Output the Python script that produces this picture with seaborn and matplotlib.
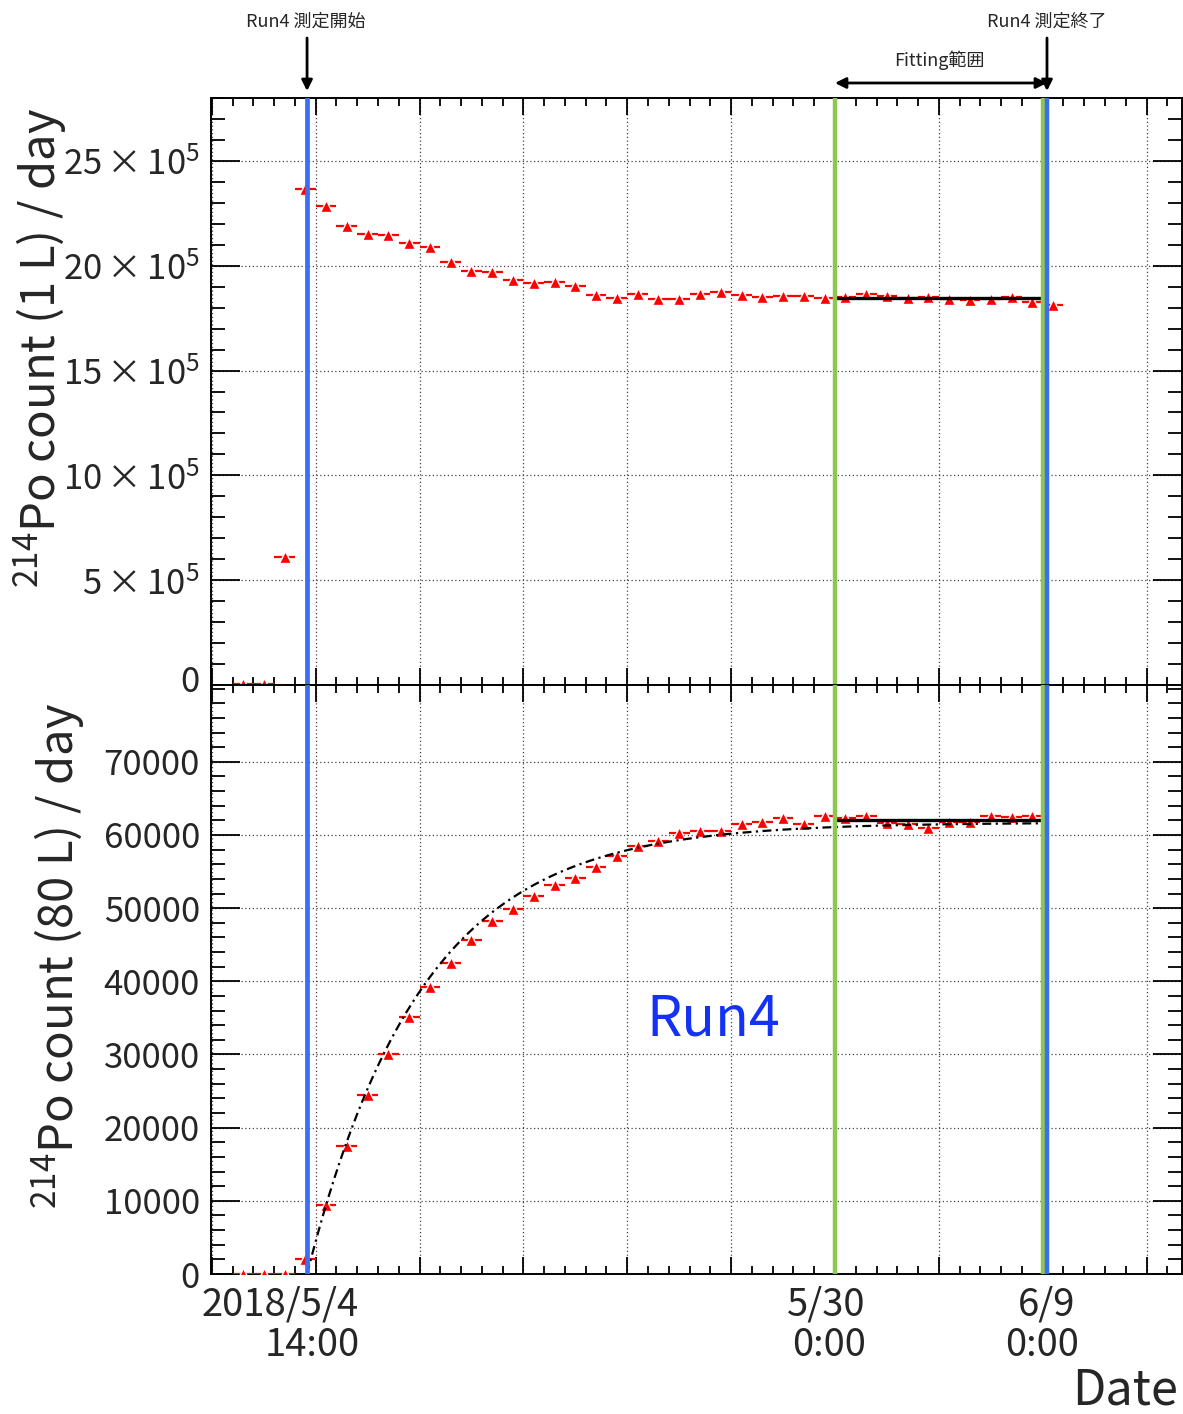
import numpy as np
import pandas as pd
import matplotlib
matplotlib.use("Agg")
import matplotlib.pyplot as plt
import matplotlib.dates as mdates
from matplotlib.ticker import FixedLocator
from matplotlib.transforms import blended_transform_factory, ScaledTranslation
import seaborn as sns

# ---------------- data ----------------
first_bin_center = "2018-05-01 12:00"      # daily bins (0:00-24:00), centres at 12:00
top_counts_1e5 = [0.03, 0.03, 6.10, 23.66, 22.83, 21.88, 21.51, 21.47, 21.10, 20.87,
                  20.19, 19.76, 19.71, 19.33, 19.16, 19.24, 19.01, 18.60, 18.44, 18.65,
                  18.41, 18.41, 18.65, 18.77, 18.62, 18.51, 18.55, 18.55, 18.44, 18.53,
                  18.63, 18.57, 18.44, 18.53, 18.42, 18.38, 18.42, 18.49, 18.28, 18.14]
bottom_counts = [0, 0, 0, 2000, 9400, 17500, 24400, 30000, 35100, 39200,
                 42500, 45700, 48200, 49900, 51700, 53200, 54100, 55600, 57160, 58450,
                 59200, 60260, 60570, 60570, 61570, 61840, 62390, 61490, 62620, 62390,
                 62620, 61620, 61490, 60890, 61800, 61800, 62620, 62480, 62530]

run_start = "2018-05-04 14:00"
run_end = "2018-06-09 05:00"
fit_start = "2018-05-30 00:00"
fit_end = "2018-06-09 00:00"
top_fit_const = 18.47e5
bottom_fit_const = 62000
growth_amplitude = 61700
growth_tau_days = 5.516

top_yticks = [0, 5e5, 10e5, 15e5, 20e5, 25e5]
top_yticklabels = ["0", r"$5\,{\times}\,10^5$", r"$10\,{\times}\,10^5$", r"$15\,{\times}\,10^5$",
                   r"$20\,{\times}\,10^5$", r"$25\,{\times}\,10^5$"]
bottom_yticks = [0, 10000, 20000, 30000, 40000, 50000, 60000, 70000]
xlabels = [("2018/5/4", "14:00"), ("5/30", "0:00"), ("6/9", "0:00")]

# ---------------- style ----------------
sns.set_theme(style="white")
plt.rcParams["font.family"] = ["Noto Sans CJK JP", "DejaVu Sans"]
plt.rcParams["mathtext.fontset"] = "custom"
plt.rcParams["mathtext.rm"] = "Noto Sans CJK JP"
plt.rcParams["mathtext.it"] = "Noto Sans CJK JP"
plt.rcParams["mathtext.bf"] = "Noto Sans CJK JP"
plt.rcParams["mathtext.default"] = "regular"
plt.rcParams["axes.unicode_minus"] = False

W, H = 1183, 1414
fig = plt.figure(figsize=(W / 100, H / 100), dpi=100)

def fx(px):
    return px / W

def fy(py):
    return 1 - py / H

left, right = 211, 1182
ax1 = fig.add_axes([fx(left), fy(685), fx(right) - fx(left), fy(98) - fy(685)])
ax2 = fig.add_axes([fx(left), fy(1274), fx(right) - fx(left), fy(685) - fy(1274)])

d2n = lambda s: mdates.date2num(pd.Timestamp(s))

top_x = mdates.date2num(pd.date_range(first_bin_center, periods=len(top_counts_1e5), freq="D"))
bot_x = mdates.date2num(pd.date_range(first_bin_center, periods=len(bottom_counts), freq="D"))
top_df = pd.DataFrame({"x": top_x, "y": np.array(top_counts_1e5) * 1e5})
bot_df = pd.DataFrame({"x": bot_x, "y": np.array(bottom_counts, dtype=float)})

red = "#ff0000"
blue = "#3c6ef5"
green = "#8cc850"

for ax, df in [(ax1, top_df), (ax2, bot_df)]:
    ax.errorbar(df["x"], df["y"], xerr=0.5, fmt="none", ecolor=red, elinewidth=1.6,
                capsize=0, zorder=3)
    sns.scatterplot(data=df, x="x", y="y", ax=ax, marker="^", color=red, s=75,
                    edgecolor="white", linewidth=1.0, zorder=4, legend=False)

# fits
fs, fe = d2n(fit_start), d2n(fit_end)
sns.lineplot(x=[fs, fe], y=[top_fit_const, top_fit_const], ax=ax1, color="black",
             linewidth=2.4, zorder=5)
sns.lineplot(x=[fs, fe], y=[bottom_fit_const, bottom_fit_const], ax=ax2, color="black",
             linewidth=2.4, zorder=5)
t0 = d2n(run_start)
tc = np.linspace(t0, fe, 400)
curve = growth_amplitude * (1 - np.exp(-(tc - t0) / growth_tau_days))
ax2.plot(tc, curve, color="black", linewidth=1.6, linestyle=(0, (4, 2, 1, 2)), zorder=5)

# vertical lines
for ax in (ax1, ax2):
    ax.axvline(d2n(fit_start), color=green, linewidth=3.2, zorder=6)
    ax.axvline(d2n(fit_end), color=green, linewidth=3.2, zorder=6)
    ax.axvline(d2n(run_start), color=blue, linewidth=3.4, zorder=7)
    ax.axvline(d2n(run_end), color=blue, linewidth=3.2, zorder=7)

# axes formatting
xmin, xmax = d2n("2018-04-29 23:00"), d2n("2018-06-15 17:00")
major_x = mdates.date2num(pd.date_range("2018-04-30", "2018-06-14", freq="5D"))
minor_x = mdates.date2num(pd.date_range("2018-04-29", "2018-06-16", freq="D"))
for ax in (ax1, ax2):
    ax.set_xlim(xmin, xmax)
    ax.xaxis.set_major_locator(FixedLocator(major_x))
    ax.xaxis.set_minor_locator(FixedLocator(minor_x))
    ax.grid(True, which="major", color="#444444", linestyle=(0, (1, 2)), linewidth=0.9)
    ax.set_axisbelow(False)
    ax.tick_params(axis="both", which="both", direction="in", top=True, right=True,
                   bottom=True, left=True, width=1.3, color="black")
    ax.tick_params(axis="x", which="major", length=12)
    ax.tick_params(axis="x", which="minor", length=6)
    ax.tick_params(axis="y", which="major", length=21, labelsize=25, pad=8)
    ax.tick_params(axis="y", which="minor", length=10)
    ax.tick_params(axis="x", labelbottom=False, labeltop=False)
    ax.set_xlabel("")
    ax.set_ylabel("")
    for sp in ax.spines.values():
        sp.set_visible(True)
        sp.set_color("black")
        sp.set_linewidth(1.4)

ax1.set_ylim(0, 28.0e5)
ax1.yaxis.set_major_locator(FixedLocator(top_yticks))
ax1.yaxis.set_minor_locator(FixedLocator(np.arange(0, 28.01e5, 1e5)))
ax1.set_yticklabels(top_yticklabels)
zero_lbl = ax1.get_yticklabels()[0]
zero_lbl.set_transform(zero_lbl.get_transform() +
                       ScaledTranslation(0, 7 / 100, fig.dpi_scale_trans))

ax2.set_ylim(0, 80500)
ax2.yaxis.set_major_locator(FixedLocator(bottom_yticks))
ax2.yaxis.set_minor_locator(FixedLocator(np.arange(0, 80001, 2000)))
ax2.set_yticklabels([str(v) for v in bottom_yticks])

# y titles
fig.text(fx(40), fy(108), r"$^{214}$Po count (1 L) / day", rotation=90, ha="center",
         va="top", fontsize=34)
fig.text(fx(58), fy(703), r"$^{214}$Po count (80 L) / day", rotation=90, ha="center",
         va="top", fontsize=34)

# x labels
label_pos = [(280, 312), (826, 829), (1047, 1042)]
for (l1, l2), (x1, x2) in zip(xlabels, label_pos):
    fig.text(fx(x1), fy(1305), l1, ha="center", va="center", fontsize=27.5)
    fig.text(fx(x2), fy(1346), l2, ha="center", va="center", fontsize=27.5)
fig.text(fx(1178), fy(1391), "Date", ha="right", va="center", fontsize=35)

# Run4 label
fig.text(fx(713), fy(1020), "Run4", ha="center", va="center", fontsize=40, color="#1432f5")

# top annotations
trans = blended_transform_factory(ax1.transData, fig.transFigure)
fig.text(fx(306), fy(22), "Run4 測定開始", ha="center", va="center", fontsize=13)
fig.text(fx(1047), fy(22), "Run4 測定終了", ha="center", va="center", fontsize=13)
fig.text(fx(939), fy(60), "Fitting範囲", ha="center", va="center", fontsize=13)
arrow_kw = dict(arrowstyle="-|>", color="black", lw=2, mutation_scale=16,
                shrinkA=0, shrinkB=0)
ax1.annotate("", xy=(d2n(run_start), fy(91)), xytext=(d2n(run_start), fy(38)),
             xycoords=trans, textcoords=trans, arrowprops=arrow_kw, annotation_clip=False)
ax1.annotate("", xy=(d2n(run_end), fy(91)), xytext=(d2n(run_end), fy(38)),
             xycoords=trans, textcoords=trans, arrowprops=arrow_kw, annotation_clip=False)
ax1.annotate("", xy=(d2n(fit_start), fy(83)), xytext=(d2n(run_end), fy(83)),
             xycoords=trans, textcoords=trans,
             arrowprops=dict(arrowstyle="<|-|>", color="black", lw=2, mutation_scale=16,
                             shrinkA=0, shrinkB=0), annotation_clip=False)

fig.savefig("out.png", dpi=100)
